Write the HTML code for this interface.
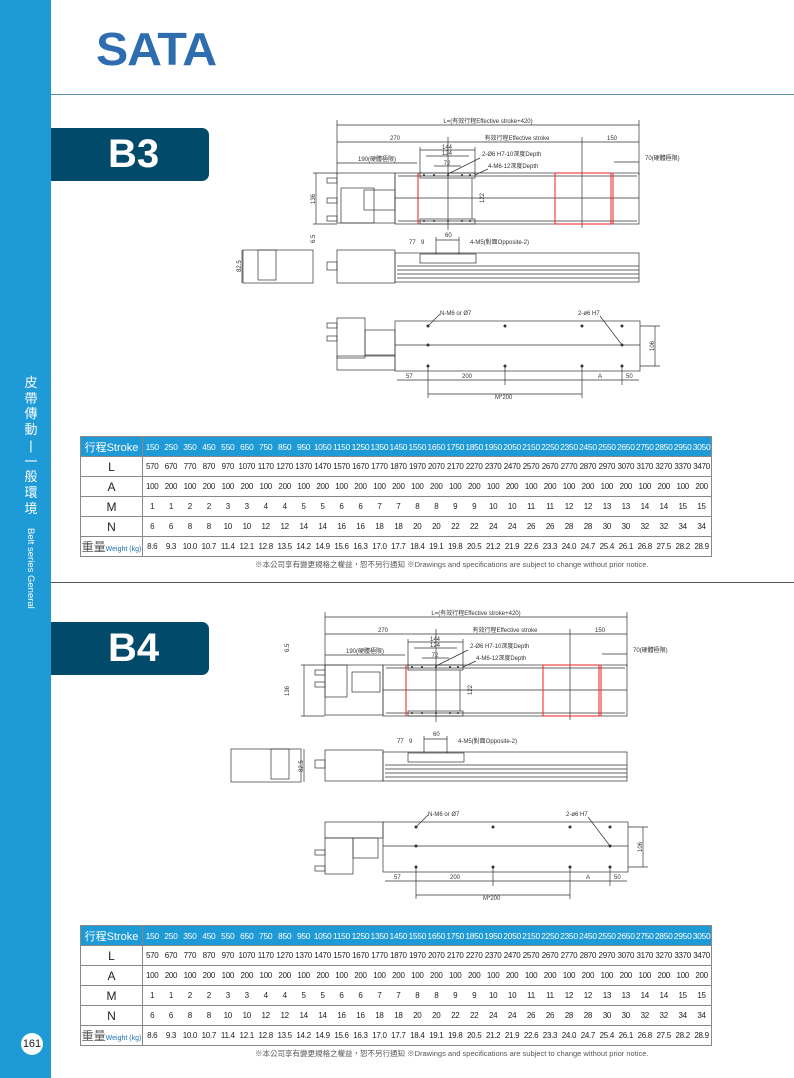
<!DOCTYPE html>
<html><head><meta charset="utf-8"><style>
*{margin:0;padding:0;box-sizing:border-box}
body{width:794px;height:1078px;position:relative;background:#fff;font-family:"Liberation Sans","Noto Sans CJK TC",sans-serif;overflow:hidden}
.side{position:absolute;left:0;top:0;width:51px;height:1078px;background:#1e9ad6}
.vt{position:absolute;left:23px;top:375px;width:16px;color:#fff;font-size:13px;line-height:15.7px;text-align:center}
.ve{position:absolute;left:25px;top:528px;color:#fff;font-size:9.5px;writing-mode:vertical-rl}
.logo{position:absolute;left:96px;top:22px;font-size:46px;font-weight:bold;color:#2f6db1;letter-spacing:-1px;transform:scaleX(1.05);transform-origin:left}
.hl{position:absolute;left:51px;height:1px;background:#5a8fb0;width:743px}
.badge{position:absolute;left:51px;width:158px;height:53px;background:#024a6a;border-radius:0 7px 7px 0;color:#fff;font-size:40px;font-weight:bold;padding-left:57px;line-height:53px}
table{position:absolute;left:80px;border-collapse:collapse;width:632px;table-layout:fixed;border:1.5px solid #888}
td{height:20px;text-align:center;font-size:8px;color:#222;border-top:1px solid #888;white-space:nowrap;letter-spacing:-.3px;padding:0}
td.h{width:62px;font-size:12px;border-right:1.5px solid #888;letter-spacing:0}
tr.hd td{background:#1e9ad6;color:#fff;font-size:8.5px}
tr.hd td.h{font-size:11px}
.wt{font-size:11px;color:#555}.wt span{font-size:7px;color:#1e6fb0}
.note{position:absolute;left:255px;font-size:7.5px;color:#555}
.pn{position:absolute;left:21px;top:1033px;width:22px;height:22px;border-radius:50%;background:#fff;font-size:11px;text-align:center;line-height:22px;color:#222}
svg{position:absolute;left:0;top:0}
</style></head><body>
<div class="side"></div>
<div class="vt">皮<br>帶<br>傳<br>動<br>|<br>一<br>般<br>環<br>境</div>
<div class="ve">Belt series General</div>
<div class="logo">SATA</div>
<div class="hl" style="top:94px"></div>
<div class="hl" style="top:582px;background:#555"></div>
<div class="badge" style="top:128px">B3</div>
<div class="badge" style="top:622px">B4</div>
<div class="pn">161</div>

<svg width="794" height="1078" viewBox="0 0 794 1078" font-family="Liberation Sans, Noto Sans CJK TC, sans-serif" font-size="6" fill="none" stroke="#333" stroke-width="0.7">
<g id="d1">
<line x1="337" y1="125" x2="639" y2="125"/><line x1="337" y1="142" x2="639" y2="142"/>
<line x1="337" y1="120" x2="337" y2="175"/><line x1="639" y1="120" x2="639" y2="175"/>
<line x1="582" y1="137" x2="582" y2="228"/><line x1="448" y1="137" x2="448" y2="230"/>
<line x1="420" y1="150" x2="475" y2="150"/><line x1="426" y1="156" x2="469" y2="156"/><line x1="434" y1="166" x2="461" y2="166"/>
<line x1="420" y1="147" x2="420" y2="175"/><line x1="475" y1="147" x2="475" y2="175"/>
<line x1="337" y1="163" x2="417" y2="163"/><line x1="614" y1="162" x2="639" y2="162"/>
<line x1="448" y1="174" x2="480" y2="158"/><line x1="475" y1="175" x2="488" y2="169"/>
<rect x="337" y="173" width="58" height="50"/><rect x="341" y="188" width="33" height="35"/><rect x="364" y="190" width="31" height="20"/>
<rect x="327" y="178" width="10" height="5"/><rect x="327" y="198" width="10" height="5"/><rect x="327" y="216" width="10" height="5"/>
<rect x="395" y="173" width="244" height="51"/><line x1="398" y1="176" x2="637" y2="176"/><line x1="398" y1="221" x2="637" y2="221"/>
<line x1="395" y1="198" x2="639" y2="198"/>
<rect x="420" y="173" width="55" height="5"/><rect x="420" y="219" width="55" height="5"/>
<line x1="472" y1="178" x2="472" y2="219"/>
<g stroke="#e22" stroke-width="1"><line x1="418" y1="173" x2="418" y2="224"/><rect x="555" y="173" width="56" height="51"/><line x1="613" y1="173" x2="613" y2="224"/></g>
<line x1="313" y1="173" x2="337" y2="173"/><line x1="313" y1="224" x2="337" y2="224"/><line x1="316" y1="173" x2="316" y2="224"/>
<rect x="337" y="250" width="58" height="33"/><rect x="243" y="250" width="70" height="33"/><rect x="258" y="250" width="18" height="30"/>
<rect x="327" y="262" width="10" height="8"/>
<rect x="395" y="253" width="244" height="29"/><rect x="420" y="254" width="56" height="9"/>
<line x1="397" y1="266" x2="639" y2="266"/><line x1="397" y1="270" x2="639" y2="270"/><line x1="397" y1="274" x2="639" y2="274"/><line x1="397" y1="278" x2="639" y2="278"/>
<line x1="436" y1="240" x2="459" y2="240"/><line x1="436" y1="237" x2="436" y2="254"/><line x1="459" y1="237" x2="459" y2="254"/>
<line x1="242" y1="250" x2="242" y2="283"/>
<rect x="395" y="321" width="245" height="50"/><line x1="395" y1="345" x2="640" y2="345"/>
<rect x="337" y="318" width="28" height="40"/><rect x="365" y="330" width="30" height="25"/><rect x="337" y="356" width="58" height="14"/>
<rect x="327" y="323" width="10" height="5"/><rect x="327" y="336" width="10" height="5"/>
<line x1="397" y1="380" x2="639" y2="380"/><line x1="428" y1="394" x2="582" y2="394"/>
<line x1="428" y1="366" x2="428" y2="398"/><line x1="505" y1="366" x2="505" y2="385"/><line x1="582" y1="366" x2="582" y2="398"/><line x1="622" y1="366" x2="622" y2="385"/>
<line x1="640" y1="326" x2="660" y2="326"/><line x1="640" y1="366" x2="660" y2="366"/><line x1="655" y1="326" x2="655" y2="366"/>
<line x1="428" y1="326" x2="440" y2="314"/><line x1="622" y1="345" x2="600" y2="316"/>
<g fill="#333" stroke="none">
<circle cx="428" cy="326" r="1.5"/><circle cx="505" cy="326" r="1.5"/><circle cx="582" cy="326" r="1.5"/><circle cx="622" cy="326" r="1.5"/>
<circle cx="428" cy="345" r="1.5"/><circle cx="622" cy="345" r="1.5"/>
<circle cx="428" cy="366" r="1.5"/><circle cx="505" cy="366" r="1.5"/><circle cx="582" cy="366" r="1.5"/><circle cx="622" cy="366" r="1.5"/>
<circle cx="424" cy="175" r="1"/><circle cx="434" cy="175" r="1"/><circle cx="448" cy="175" r="1"/><circle cx="462" cy="175" r="1"/><circle cx="470" cy="175" r="1"/>
<circle cx="424" cy="221" r="1"/><circle cx="434" cy="221" r="1"/><circle cx="448" cy="221" r="1"/><circle cx="462" cy="221" r="1"/><circle cx="470" cy="221" r="1"/>
<text x="488" y="123" text-anchor="middle">L=(有效行程Effective stroke+420)</text>
<text x="395" y="140" text-anchor="middle">270</text><text x="517" y="140" text-anchor="middle">有效行程Effective stroke</text><text x="612" y="140" text-anchor="middle">150</text>
<text x="447" y="149" text-anchor="middle">144</text><text x="447" y="155" text-anchor="middle">124</text><text x="447" y="165" text-anchor="middle">72</text>
<text x="358" y="161">190(硬體極限)</text><text x="645" y="160">70(硬體極限)</text>
<text x="482" y="156">2-Ø6 H7-10深度Depth</text><text x="488" y="168">4-M6-12深度Depth</text>
<text x="409" y="244">77</text><text x="421" y="244">9</text><text x="445" y="237">60</text><text x="470" y="244">4-M5(對面Opposite-2)</text>
<text x="440" y="315">N-M6 or Ø7</text><text x="578" y="315">2-ø6 H7</text>
<text x="406" y="378">57</text><text x="462" y="378">200</text><text x="598" y="378">A</text><text x="626" y="378">50</text><text x="495" y="399">M*200</text>
<text transform="translate(315,204) rotate(-90)">136</text><text transform="translate(315,243) rotate(-90)">6.5</text>
<text transform="translate(241,272) rotate(-90)">82.5</text><text transform="translate(654,351) rotate(-90)">106</text>
<text transform="translate(484,203) rotate(-90)">122</text>
</g>
</g>
</svg>

<svg width="794" height="1078" viewBox="0 0 794 1078" font-family="Liberation Sans, Noto Sans CJK TC, sans-serif" font-size="6" fill="none" stroke="#333" stroke-width="0.7">
<g transform="translate(-12,492)">
<line x1="337" y1="125" x2="639" y2="125"/><line x1="337" y1="142" x2="639" y2="142"/>
<line x1="337" y1="120" x2="337" y2="175"/><line x1="639" y1="120" x2="639" y2="175"/>
<line x1="582" y1="137" x2="582" y2="228"/><line x1="448" y1="137" x2="448" y2="230"/>
<line x1="420" y1="150" x2="475" y2="150"/><line x1="426" y1="156" x2="469" y2="156"/><line x1="434" y1="166" x2="461" y2="166"/>
<line x1="420" y1="147" x2="420" y2="175"/><line x1="475" y1="147" x2="475" y2="175"/>
<line x1="337" y1="163" x2="417" y2="163"/><line x1="614" y1="162" x2="639" y2="162"/>
<line x1="448" y1="174" x2="480" y2="158"/><line x1="475" y1="175" x2="488" y2="169"/>
<rect x="337" y="173" width="58" height="50"/><rect x="337" y="173" width="22" height="32"/><rect x="364" y="180" width="28" height="20"/>
<rect x="327" y="178" width="10" height="5"/><rect x="327" y="190" width="10" height="5"/>
<rect x="395" y="173" width="244" height="51"/><line x1="398" y1="176" x2="637" y2="176"/><line x1="398" y1="221" x2="637" y2="221"/>
<line x1="395" y1="198" x2="639" y2="198"/>
<rect x="420" y="173" width="55" height="5"/><rect x="420" y="219" width="55" height="5"/>
<line x1="472" y1="178" x2="472" y2="219"/>
<g stroke="#e22" stroke-width="1"><line x1="418" y1="173" x2="418" y2="224"/><rect x="555" y="173" width="56" height="51"/><line x1="613" y1="173" x2="613" y2="224"/></g>
<line x1="313" y1="173" x2="337" y2="173"/><line x1="313" y1="224" x2="337" y2="224"/><line x1="316" y1="173" x2="316" y2="224"/>
<rect x="337" y="258" width="58" height="31"/><rect x="243" y="257" width="70" height="33"/><rect x="283" y="257" width="18" height="30"/>
<rect x="327" y="268" width="10" height="8"/>
<rect x="395" y="260" width="244" height="29"/><rect x="420" y="261" width="56" height="9"/>
<line x1="397" y1="273" x2="639" y2="273"/><line x1="397" y1="277" x2="639" y2="277"/><line x1="397" y1="281" x2="639" y2="281"/><line x1="397" y1="285" x2="639" y2="285"/>
<line x1="436" y1="247" x2="459" y2="247"/><line x1="436" y1="244" x2="436" y2="261"/><line x1="459" y1="244" x2="459" y2="261"/>
<line x1="316" y1="257" x2="316" y2="290"/>
<rect x="395" y="330" width="245" height="50"/><line x1="395" y1="354" x2="640" y2="354"/>
<rect x="337" y="330" width="58" height="16"/><rect x="337" y="346" width="28" height="36"/><rect x="365" y="346" width="25" height="20"/>
<rect x="327" y="358" width="10" height="5"/><rect x="327" y="374" width="10" height="5"/>
<line x1="397" y1="389" x2="639" y2="389"/><line x1="428" y1="403" x2="582" y2="403"/>
<line x1="428" y1="375" x2="428" y2="407"/><line x1="505" y1="375" x2="505" y2="394"/><line x1="582" y1="375" x2="582" y2="407"/><line x1="622" y1="375" x2="622" y2="394"/>
<line x1="640" y1="335" x2="660" y2="335"/><line x1="640" y1="375" x2="660" y2="375"/><line x1="655" y1="335" x2="655" y2="375"/>
<line x1="428" y1="335" x2="440" y2="323"/><line x1="622" y1="354" x2="600" y2="325"/>
<g fill="#333" stroke="none">
<circle cx="428" cy="335" r="1.5"/><circle cx="505" cy="335" r="1.5"/><circle cx="582" cy="335" r="1.5"/><circle cx="622" cy="335" r="1.5"/>
<circle cx="428" cy="354" r="1.5"/><circle cx="622" cy="354" r="1.5"/>
<circle cx="428" cy="375" r="1.5"/><circle cx="505" cy="375" r="1.5"/><circle cx="582" cy="375" r="1.5"/><circle cx="622" cy="375" r="1.5"/>
<circle cx="424" cy="175" r="1"/><circle cx="434" cy="175" r="1"/><circle cx="448" cy="175" r="1"/><circle cx="462" cy="175" r="1"/><circle cx="470" cy="175" r="1"/>
<circle cx="424" cy="221" r="1"/><circle cx="434" cy="221" r="1"/><circle cx="448" cy="221" r="1"/><circle cx="462" cy="221" r="1"/><circle cx="470" cy="221" r="1"/>
<text x="488" y="123" text-anchor="middle">L=(有效行程Effective stroke+420)</text>
<text x="395" y="140" text-anchor="middle">270</text><text x="517" y="140" text-anchor="middle">有效行程Effective stroke</text><text x="612" y="140" text-anchor="middle">150</text>
<text x="447" y="149" text-anchor="middle">144</text><text x="447" y="155" text-anchor="middle">124</text><text x="447" y="165" text-anchor="middle">72</text>
<text x="358" y="161">190(硬體極限)</text><text x="645" y="160">70(硬體極限)</text>
<text x="482" y="156">2-Ø6 H7-10深度Depth</text><text x="488" y="168">4-M6-12深度Depth</text>
<text x="409" y="251">77</text><text x="421" y="251">9</text><text x="445" y="244">60</text><text x="470" y="251">4-M5(對面Opposite-2)</text>
<text x="440" y="324">N-M6 or Ø7</text><text x="578" y="324">2-ø6 H7</text>
<text x="406" y="387">57</text><text x="462" y="387">200</text><text x="598" y="387">A</text><text x="626" y="387">50</text><text x="495" y="408">M*200</text>
<text transform="translate(301,204) rotate(-90)">136</text><text transform="translate(301,160) rotate(-90)">6.5</text>
<text transform="translate(315,280) rotate(-90)">82.5</text><text transform="translate(654,360) rotate(-90)">106</text>
<text transform="translate(484,203) rotate(-90)">122</text>
</g>
</g>
</svg>

<table style="top:436px">
<tr class="hd"><td class="h">行程Stroke</td><td>150</td><td>250</td><td>350</td><td>450</td><td>550</td><td>650</td><td>750</td><td>850</td><td>950</td><td>1050</td><td>1150</td><td>1250</td><td>1350</td><td>1450</td><td>1550</td><td>1650</td><td>1750</td><td>1850</td><td>1950</td><td>2050</td><td>2150</td><td>2250</td><td>2350</td><td>2450</td><td>2550</td><td>2650</td><td>2750</td><td>2850</td><td>2950</td><td>3050</td></tr>
<tr><td class="h">L</td><td>570</td><td>670</td><td>770</td><td>870</td><td>970</td><td>1070</td><td>1170</td><td>1270</td><td>1370</td><td>1470</td><td>1570</td><td>1670</td><td>1770</td><td>1870</td><td>1970</td><td>2070</td><td>2170</td><td>2270</td><td>2370</td><td>2470</td><td>2570</td><td>2670</td><td>2770</td><td>2870</td><td>2970</td><td>3070</td><td>3170</td><td>3270</td><td>3370</td><td>3470</td></tr>
<tr><td class="h">A</td><td>100</td><td>200</td><td>100</td><td>200</td><td>100</td><td>200</td><td>100</td><td>200</td><td>100</td><td>200</td><td>100</td><td>200</td><td>100</td><td>200</td><td>100</td><td>200</td><td>100</td><td>200</td><td>100</td><td>200</td><td>100</td><td>200</td><td>100</td><td>200</td><td>100</td><td>200</td><td>100</td><td>200</td><td>100</td><td>200</td></tr>
<tr><td class="h">M</td><td>1</td><td>1</td><td>2</td><td>2</td><td>3</td><td>3</td><td>4</td><td>4</td><td>5</td><td>5</td><td>6</td><td>6</td><td>7</td><td>7</td><td>8</td><td>8</td><td>9</td><td>9</td><td>10</td><td>10</td><td>11</td><td>11</td><td>12</td><td>12</td><td>13</td><td>13</td><td>14</td><td>14</td><td>15</td><td>15</td></tr>
<tr><td class="h">N</td><td>6</td><td>6</td><td>8</td><td>8</td><td>10</td><td>10</td><td>12</td><td>12</td><td>14</td><td>14</td><td>16</td><td>16</td><td>18</td><td>18</td><td>20</td><td>20</td><td>22</td><td>22</td><td>24</td><td>24</td><td>26</td><td>26</td><td>28</td><td>28</td><td>30</td><td>30</td><td>32</td><td>32</td><td>34</td><td>34</td></tr>
<tr><td class="h wt">重量<span>Weight (kg)</span></td><td>8.6</td><td>9.3</td><td>10.0</td><td>10.7</td><td>11.4</td><td>12.1</td><td>12.8</td><td>13.5</td><td>14.2</td><td>14.9</td><td>15.6</td><td>16.3</td><td>17.0</td><td>17.7</td><td>18.4</td><td>19.1</td><td>19.8</td><td>20.5</td><td>21.2</td><td>21.9</td><td>22.6</td><td>23.3</td><td>24.0</td><td>24.7</td><td>25.4</td><td>26.1</td><td>26.8</td><td>27.5</td><td>28.2</td><td>28.9</td></tr>
</table>
<div class="note" style="top:559px">※本公司享有變更規格之權益，恕不另行通知 ※Drawings and specifications are subject to change without prior notice.</div>

<table style="top:925px">
<tr class="hd"><td class="h">行程Stroke</td><td>150</td><td>250</td><td>350</td><td>450</td><td>550</td><td>650</td><td>750</td><td>850</td><td>950</td><td>1050</td><td>1150</td><td>1250</td><td>1350</td><td>1450</td><td>1550</td><td>1650</td><td>1750</td><td>1850</td><td>1950</td><td>2050</td><td>2150</td><td>2250</td><td>2350</td><td>2450</td><td>2550</td><td>2650</td><td>2750</td><td>2850</td><td>2950</td><td>3050</td></tr>
<tr><td class="h">L</td><td>570</td><td>670</td><td>770</td><td>870</td><td>970</td><td>1070</td><td>1170</td><td>1270</td><td>1370</td><td>1470</td><td>1570</td><td>1670</td><td>1770</td><td>1870</td><td>1970</td><td>2070</td><td>2170</td><td>2270</td><td>2370</td><td>2470</td><td>2570</td><td>2670</td><td>2770</td><td>2870</td><td>2970</td><td>3070</td><td>3170</td><td>3270</td><td>3370</td><td>3470</td></tr>
<tr><td class="h">A</td><td>100</td><td>200</td><td>100</td><td>200</td><td>100</td><td>200</td><td>100</td><td>200</td><td>100</td><td>200</td><td>100</td><td>200</td><td>100</td><td>200</td><td>100</td><td>200</td><td>100</td><td>200</td><td>100</td><td>200</td><td>100</td><td>200</td><td>100</td><td>200</td><td>100</td><td>200</td><td>100</td><td>200</td><td>100</td><td>200</td></tr>
<tr><td class="h">M</td><td>1</td><td>1</td><td>2</td><td>2</td><td>3</td><td>3</td><td>4</td><td>4</td><td>5</td><td>5</td><td>6</td><td>6</td><td>7</td><td>7</td><td>8</td><td>8</td><td>9</td><td>9</td><td>10</td><td>10</td><td>11</td><td>11</td><td>12</td><td>12</td><td>13</td><td>13</td><td>14</td><td>14</td><td>15</td><td>15</td></tr>
<tr><td class="h">N</td><td>6</td><td>6</td><td>8</td><td>8</td><td>10</td><td>10</td><td>12</td><td>12</td><td>14</td><td>14</td><td>16</td><td>16</td><td>18</td><td>18</td><td>20</td><td>20</td><td>22</td><td>22</td><td>24</td><td>24</td><td>26</td><td>26</td><td>28</td><td>28</td><td>30</td><td>30</td><td>32</td><td>32</td><td>34</td><td>34</td></tr>
<tr><td class="h wt">重量<span>Weight (kg)</span></td><td>8.6</td><td>9.3</td><td>10.0</td><td>10.7</td><td>11.4</td><td>12.1</td><td>12.8</td><td>13.5</td><td>14.2</td><td>14.9</td><td>15.6</td><td>16.3</td><td>17.0</td><td>17.7</td><td>18.4</td><td>19.1</td><td>19.8</td><td>20.5</td><td>21.2</td><td>21.9</td><td>22.6</td><td>23.3</td><td>24.0</td><td>24.7</td><td>25.4</td><td>26.1</td><td>26.8</td><td>27.5</td><td>28.2</td><td>28.9</td></tr>
</table>
<div class="note" style="top:1048px">※本公司享有變更規格之權益，恕不另行通知 ※Drawings and specifications are subject to change without prior notice.</div>
</body></html>
